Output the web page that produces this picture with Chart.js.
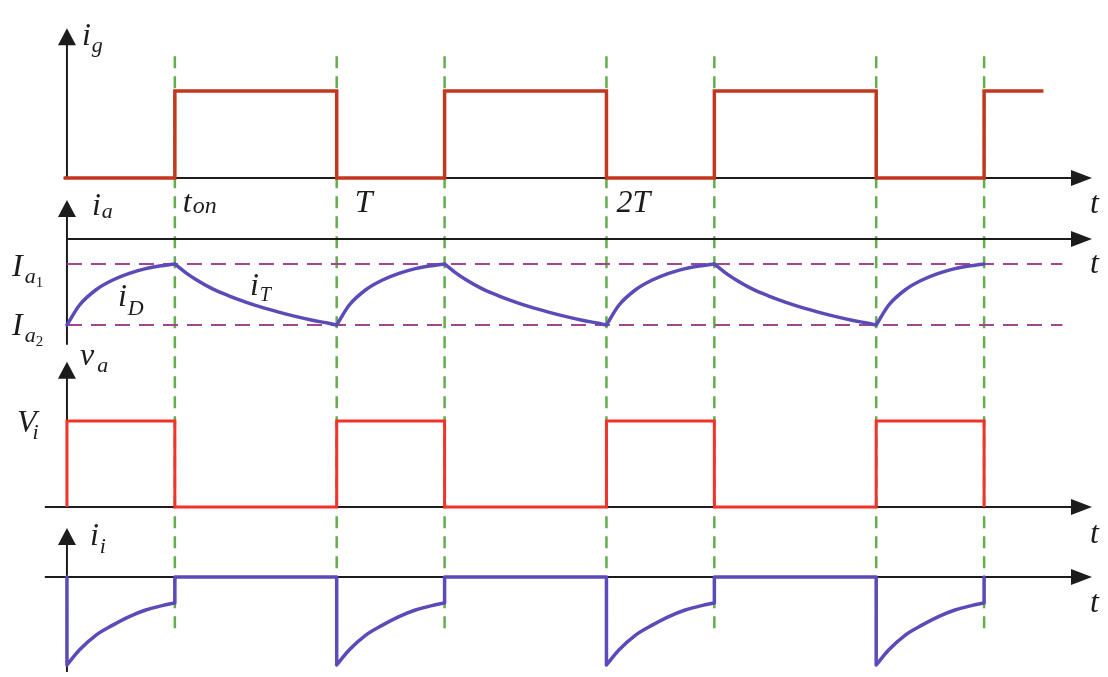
<!DOCTYPE html>
<html>
<head>
<meta charset="utf-8">
<script src="https://cdn.jsdelivr.net/npm/chart.js@4.4.0/dist/chart.umd.min.js"></script>
<style>
  body { margin: 0; background: #fff; }
  canvas { display: block; }
</style>
</head>
<body>
<canvas id="chopperChart" width="1108" height="677"></canvas>
<script>
// time is measured in switching periods T
const gateTimes  = [-0.012, 0.4, 1, 1.4, 2, 2.4, 3, 3.4, 3.62];
const gateLevels = [0, 1, 0, 1, 0, 1, 0, 1, 1];

const vaTimes  = [0, 0, 0.4, 1, 1.4, 2, 2.4, 3, 3.4];
const vaLevels = [0, 1, 0, 1, 0, 1, 0, 1, 0];

// one cycle of the armature current: diode interval, then switch interval
const cycleStarts = [0, 1, 2, 3];
const onTime = 0.4;
const riseTimes = [0, 0.046, 0.108, 0.168, 0.231, 0.292, 0.353, 0.4];
const iaRise    = [-10, -7.7, -5.9, -4.8, -4.0, -3.45, -3.1, -2.9];
const fallTimes = [0.4, 0.44, 0.478, 0.54, 0.6, 0.66, 0.723, 0.785, 0.847, 0.91, 0.97, 1.0];
const iaFall    = [-2.9, -3.9, -4.7, -5.8, -6.6, -7.3, -7.95, -8.5, -9.0, -9.45, -9.8, -10];
// source current, flows back only while the diode conducts
const iiRise    = [-10, -8.3, -6.6, -5.5, -4.5, -3.75, -3.25, -2.95];

const Ia1 = -2.9;
const Ia2 = -10;
const levelSpan = [0, 3.69];

// build the periodic traces from the single-cycle samples;
// a null between pieces keeps the corners sharp
const gap = t => ({ x: t, y: null });
const iaPoints = [];
const iiPoints = [];
cycleStarts.forEach((c, k) => {
  riseTimes.forEach((t, i) => iaPoints.push({ x: c + t, y: iaRise[i] }));
  if (k < cycleStarts.length - 1) {
    iaPoints.push(gap(c + onTime));
    fallTimes.forEach((t, i) => iaPoints.push({ x: c + t, y: iaFall[i] }));
    iaPoints.push(gap(c + 1));
  }
  iiPoints.push({ x: c, y: 0 }, { x: c, y: iiRise[0] }, gap(c));
  riseTimes.forEach((t, i) => iiPoints.push({ x: c + t, y: iiRise[i] }));
  iiPoints.push(gap(c + onTime), { x: c + onTime, y: iiRise[iiRise.length - 1] }, { x: c + onTime, y: 0 });
  if (k < cycleStarts.length - 1) iiPoints.push({ x: c + 1, y: 0 }, gap(c + 1));
});

const gatePoints = gateTimes.map((t, i) => ({ x: t, y: gateLevels[i] }));
const vaPoints = vaTimes.map((t, i) => ({ x: t, y: vaLevels[i] }));
const switchTimes = gateTimes.slice(1, -1);

// each hidden y scale is sized so the four panels sit one under another
const H = 677;
function fitScale(v0, px0, v1, px1) {
  const k = (px0 - px1) / (v1 - v0);
  const min = v0 - (H - px0) / k;
  return { min, max: min + H / k };
}
const yLimits = {
  yg: fitScale(0, 178, 1, 91),
  ya: fitScale(0, 239, -10, 325),
  yv: fitScale(0, 507, 1, 421),
  yi: fitScale(0, 577, -10, 665)
};

// axis decoration: y-arrow extent and where the t axis starts
const panels = [
  { id: 'yg', top: 1.72, bottom: 0, from: -0.012 },
  { id: 'ya', top: 4.53, bottom: -12.3, from: 0 },
  { id: 'yv', top: 1.69, bottom: 0, from: -0.082 },
  { id: 'yi', top: 5.57, bottom: -10.8, from: -0.082 }
];
const axisEnd = 3.8;

const serif = '"Liberation Serif", "Times New Roman", serif';
const ink = '#1c1c1c';

function drawSymbol(ctx, x, y, main, sub, subsub, opt = {}) {
  const size = opt.size || 32;
  ctx.font = `italic ${size}px ${serif}`;
  ctx.fillText(main, x, y);
  if (!sub) return;
  let cx = x + ctx.measureText(main).width + (opt.dx || 1);
  const subSize = opt.subSize || 22;
  const dy = opt.dy !== undefined ? opt.dy : 7;
  ctx.font = `italic ${subSize}px ${serif}`;
  ctx.fillText(sub, cx, y + dy);
  if (!subsub) return;
  cx += ctx.measureText(sub).width;
  ctx.font = `15px ${serif}`;
  ctx.fillText(subsub, cx, y + dy + 4);
}

function arrowRight(ctx, x, y) {
  ctx.beginPath();
  ctx.moveTo(x, y);
  ctx.lineTo(x - 21, y - 8);
  ctx.lineTo(x - 21, y + 8);
  ctx.closePath();
  ctx.fill();
}
function arrowUp(ctx, x, y) {
  ctx.beginPath();
  ctx.moveTo(x, y);
  ctx.lineTo(x - 9, y + 17);
  ctx.lineTo(x + 9, y + 17);
  ctx.closePath();
  ctx.fill();
}

const timingAxes = {
  id: 'timingAxes',
  beforeDatasetsDraw(chart) {
    const { ctx, scales } = chart;
    const px = t => scales.x.getPixelForValue(t);
    ctx.save();

    // switching instants
    ctx.strokeStyle = '#62ad4c';
    ctx.lineWidth = 2.5;
    ctx.setLineDash([12, 8]);
    const yTop = scales.yg.getPixelForValue(1.4);
    const yBot = scales.yi.getPixelForValue(-6.0);
    switchTimes.forEach(t => {
      ctx.beginPath();
      ctx.moveTo(px(t), yTop);
      ctx.lineTo(px(t), yBot);
      ctx.stroke();
    });
    ctx.setLineDash([]);

    // axes with arrows
    ctx.strokeStyle = ink;
    ctx.fillStyle = ink;
    ctx.lineWidth = 2;
    panels.forEach(p => {
      const s = scales[p.id];
      const y0 = s.getPixelForValue(0);
      const x0 = px(0);
      const xe = px(axisEnd);
      ctx.beginPath();
      ctx.moveTo(px(p.from), y0);
      ctx.lineTo(xe - 10, y0);
      ctx.stroke();
      arrowRight(ctx, xe, y0);
      const top = s.getPixelForValue(p.top);
      ctx.beginPath();
      ctx.moveTo(x0, top + 10);
      ctx.lineTo(x0, s.getPixelForValue(p.bottom));
      ctx.stroke();
      arrowUp(ctx, x0, top);
    });
    ctx.restore();
  },
  afterDatasetsDraw(chart) {
    const { ctx, scales } = chart;
    const px = t => scales.x.getPixelForValue(t);
    const py = (id, v) => scales[id].getPixelForValue(v);
    ctx.save();
    ctx.fillStyle = ink;
    ctx.textBaseline = 'alphabetic';

    const g0 = py('yg', 0);
    drawSymbol(ctx, px(0) + 15, py('yg', 1.72) + 17, 'i', 'g');
    drawSymbol(ctx, px(0) + 25, g0 + 37, 'i', 'a', null, { dy: 3 });
    drawSymbol(ctx, px(0.4) + 8, g0 + 34, 't', 'on', null, { dy: 1, subSize: 24 });
    drawSymbol(ctx, px(1) + 18, g0 + 34, 'T');
    drawSymbol(ctx, px(2) + 10, g0 + 34, '2T');

    drawSymbol(ctx, 12, py('ya', Ia1) + 12, 'I', 'a', '1', { dx: 2 });
    drawSymbol(ctx, 12, py('ya', Ia2) + 10, 'I', 'a', '2', { dx: 2 });
    drawSymbol(ctx, px(0) + 51, 306, 'i', 'D', null, { dy: 9 });
    drawSymbol(ctx, px(0) + 183, 295, 'i', 'T', null, { dy: 6, subSize: 20 });

    drawSymbol(ctx, px(0) + 13, py('yv', 1.69) + 3, 'v', 'a', null, { dx: 3 });
    drawSymbol(ctx, 17, py('yv', 1) + 11, 'V', 'i', null, { dx: -4, dy: 7 });
    drawSymbol(ctx, px(0) + 23, py('yi', 5.57) + 17, 'i', 'i', null, { dy: 8 });

    const tx = px(axisEnd) - 2;
    drawSymbol(ctx, tx, g0 + 35, 't');
    drawSymbol(ctx, tx, py('ya', Ia1) + 9, 't');
    drawSymbol(ctx, tx, py('yv', 0) + 36, 't');
    drawSymbol(ctx, tx, py('yi', 0) + 35, 't');
    ctx.restore();
  }
};

const line = (points, color, yAxisID, extra = {}) => Object.assign({
  data: points,
  yAxisID,
  borderColor: color,
  borderWidth: 3,
  borderCapStyle: 'round',
  borderJoinStyle: 'round',
  pointRadius: 0,
  fill: false,
  spanGaps: false,
  tension: 0
}, extra);

const hiddenY = id => ({ type: 'linear', display: false, bounds: 'data', min: yLimits[id].min, max: yLimits[id].max });

new Chart(document.getElementById('chopperChart'), {
  type: 'line',
  data: {
    datasets: [
      line(gatePoints, '#c0391f', 'yg', { stepped: 'before', borderWidth: 3.5, borderCapStyle: 'butt', borderJoinStyle: 'miter' }),
      line(iaPoints, '#5a4bb8', 'ya', { borderWidth: 3.5, cubicInterpolationMode: 'monotone' }),
      line(vaPoints, '#f2332b', 'yv', { stepped: 'before', borderCapStyle: 'butt', borderJoinStyle: 'miter' }),
      line(iiPoints, '#5a4bb8', 'yi', { borderWidth: 3.5, cubicInterpolationMode: 'monotone' }),
      line(levelSpan.map(t => ({ x: t, y: Ia1 })), '#a4468f', 'ya', { borderWidth: 2, borderDash: [15, 9], borderCapStyle: 'butt' }),
      line(levelSpan.map(t => ({ x: t, y: Ia2 })), '#a4468f', 'ya', { borderWidth: 2, borderDash: [15, 9], borderCapStyle: 'butt' })
    ]
  },
  options: {
    responsive: false,
    animation: false,
    events: [],
    layout: { padding: { left: 13, right: 16, top: 0, bottom: 0 } },
    plugins: { legend: { display: false }, tooltip: { enabled: false } },
    scales: {
      x: { type: 'linear', display: false, bounds: 'data', min: -0.2, max: axisEnd },
      yg: hiddenY('yg'),
      ya: hiddenY('ya'),
      yv: hiddenY('yv'),
      yi: hiddenY('yi')
    }
  },
  plugins: [timingAxes]
});
</script>
</body>
</html>
